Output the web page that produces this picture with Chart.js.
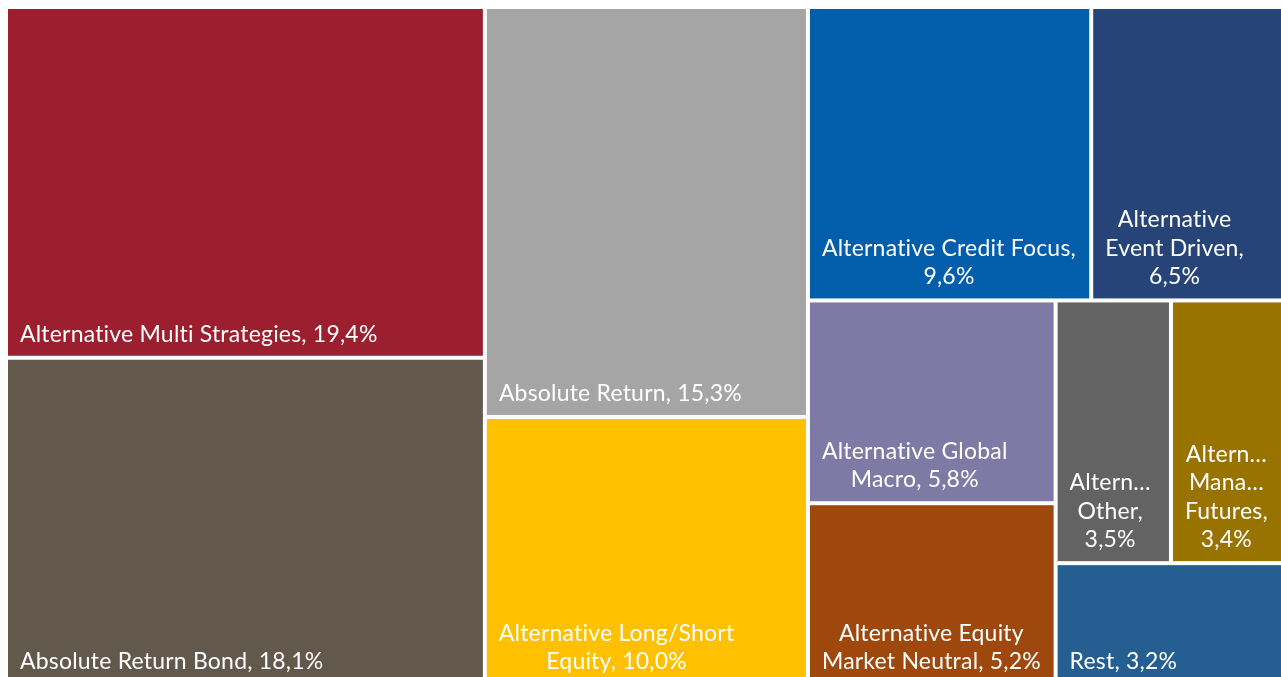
<!DOCTYPE html>
<html>
<head>
<meta charset="utf-8">
<script src="https://cdn.jsdelivr.net/npm/chart.js@4.4.1/dist/chart.umd.min.js"></script>
<style>
  html, body { margin: 0; padding: 0; background: #ffffff; overflow: hidden; }
  #wrap { position: absolute; left: 0; top: 0; width: 1283px; height: 685px; }
</style>
</head>
<body>
<div id="wrap"><canvas id="c" width="1283" height="685"></canvas></div>
<script>
// ---- data ----
const categories = [
  "Alternative Multi Strategies",
  "Absolute Return Bond",
  "Absolute Return",
  "Alternative Long/Short Equity",
  "Alternative Credit Focus",
  "Alternative Event Driven",
  "Alternative Global Macro",
  "Alternative Equity Market Neutral",
  "Alternative Other",
  "Alternative Managed Futures",
  "Rest"
];
const shares = [19.4, 18.1, 15.3, 10.0, 9.6, 6.5, 5.8, 5.2, 3.5, 3.4, 3.2];
const palette = ["#9B1F2E", "#62584C", "#A5A5A5", "#FFC000", "#025EAA", "#264478",
                 "#7F79A6", "#9E480E", "#636363", "#997300", "#255E91"];

// d3-style squarify (ratio parameter) computing tile rectangles in given units
function squarify(values, x0, y0, x1, y1, ratio) {
  const n = values.length, rects = new Array(n);
  let value = values.reduce((a, b) => a + b, 0), i0 = 0, i1 = 0;
  while (i0 < n) {
    const dx = x1 - x0, dy = y1 - y0;
    let sumValue = values[i1++], minV = sumValue, maxV = sumValue;
    const alpha = Math.max(dy / dx, dx / dy) / (value * ratio);
    let beta = sumValue * sumValue * alpha;
    let minRatio = Math.max(maxV / beta, beta / minV);
    for (; i1 < n; ++i1) {
      const nv = values[i1];
      sumValue += nv;
      if (nv < minV) minV = nv;
      if (nv > maxV) maxV = nv;
      beta = sumValue * sumValue * alpha;
      const newRatio = Math.max(maxV / beta, beta / minV);
      if (newRatio > minRatio) { sumValue -= nv; break; }
      minRatio = newRatio;
    }
    if (dx < dy) {
      const h = i1 < n ? dy * sumValue / value : dy;
      let x = x0;
      for (let k = i0; k < i1; k++) {
        const w = dx * values[k] / sumValue;
        rects[k] = { x0: x, y0: y0, x1: x + w, y1: y0 + h };
        x += w;
      }
      y0 += h;
    } else {
      const w = i1 < n ? dx * sumValue / value : dx;
      let y = y0;
      for (let k = i0; k < i1; k++) {
        const h = dy * values[k] / sumValue;
        rects[k] = { x0: x0, y0: y, x1: x0 + w, y1: y + h };
        y += h;
      }
      x0 += w;
    }
    value -= sumValue;
    i0 = i1;
  }
  return rects;
}

function fmtLabel(name, v) {
  return name + ", " + v.toFixed(1).replace(".", ",") + "%";
}

function wrapText(ctx, text, maxW) {
  const words = text.split(" ");
  const fit = (w) => {
    if (ctx.measureText(w).width <= maxW) return w;
    let s = w;
    while (s.length > 1 && ctx.measureText(s + "\u2026").width > maxW) s = s.slice(0, -1);
    return s + "\u2026";
  };
  const lines = [];
  let cur = "";
  for (const w of words) {
    const trial = cur ? cur + " " + w : w;
    if (ctx.measureText(trial).width <= maxW) { cur = trial; }
    else {
      if (cur) lines.push(cur);
      cur = fit(w);
    }
  }
  if (cur) lines.push(cur);
  return lines;
}

const treemapPlugin = {
  id: "treemapTiles",
  afterDatasetsDraw(chart) {
    const ctx = chart.ctx, area = chart.chartArea;
    const xs = chart.scales.x, ys = chart.scales.y;
    const W = area.right - area.left, H = area.bottom - area.top;
    // layout in pixel-proportional units, then expressed in data units (0..100)
    const rects = squarify(shares, 0, 0, W, H, 1.25).map(r => ({
      x0: r.x0 / W * 100, x1: r.x1 / W * 100, y0: r.y0 / H * 100, y1: r.y1 / H * 100
    }));
    const gap = 2;
    ctx.save();
    rects.forEach((r, i) => {
      const left = xs.getPixelForValue(r.x0) + gap;
      const right = xs.getPixelForValue(r.x1) - gap;
      const top = ys.getPixelForValue(r.y0) + gap;
      const bottom = ys.getPixelForValue(r.y1) - gap;
      ctx.fillStyle = palette[i];
      ctx.fillRect(left, top, right - left, bottom - top);

      ctx.font = "23px Lato";
      if ("letterSpacing" in ctx) ctx.letterSpacing = "0.2px";
      ctx.fillStyle = "#ffffff";
      ctx.textBaseline = "alphabetic";
      ctx.textAlign = "center";
      const pad = 12;
      const lines = wrapText(ctx, fmtLabel(categories[i], shares[i]), right - left - 2 * pad);
      const blockW = Math.max(...lines.map(l => ctx.measureText(l).width));
      const cx = left + pad + blockW / 2;
      const lh = 28.5;
      let base = bottom - 14;
      for (let k = lines.length - 1; k >= 0; k--) {
        ctx.fillText(lines[k], cx, base);
        base -= lh;
      }
    });
    ctx.restore();
  }
};

new Chart(document.getElementById("c"), {
  type: "scatter",
  data: { datasets: [{ data: [], pointRadius: 0 }] },
  options: {
    responsive: false,
    animation: false,
    devicePixelRatio: 1,
    layout: { padding: { left: 6, top: 7, right: 0, bottom: 0 } },
    plugins: { legend: { display: false }, tooltip: { enabled: false } },
    scales: {
      x: { type: "linear", min: 0, max: 100, display: false },
      y: { type: "linear", min: 0, max: 100, reverse: true, display: false }
    }
  },
  plugins: [treemapPlugin]
});
</script>
</body>
</html>
